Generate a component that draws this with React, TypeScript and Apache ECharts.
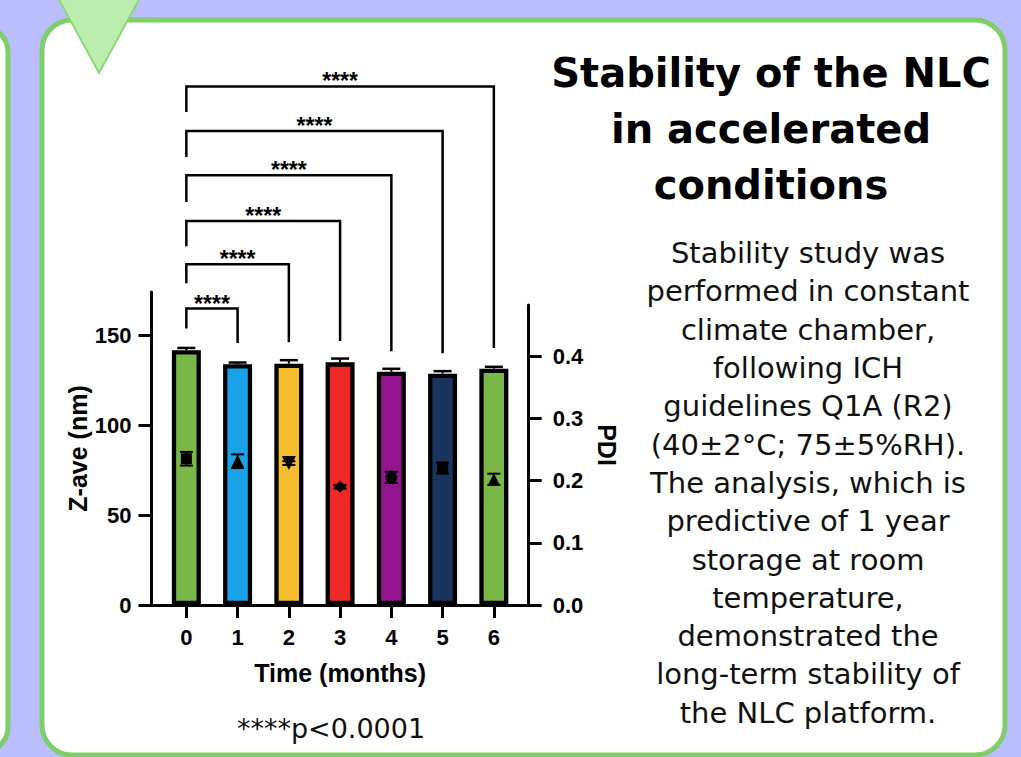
import React, { useEffect, useRef } from 'react';
import * as echarts from 'echarts';

// ---- data ----
const months = ['0', '1', '2', '3', '4', '5', '6'];
const monthValues = [0, 1, 2, 3, 4, 5, 6];
const zAve = [141.6, 133.8, 134.1, 134.9, 129.7, 128.6, 131.4];
const zAveErr = [1.3, 1.0, 2.0, 2.1, 1.6, 1.4, 1.0];
const pdi = [0.235, 0.231, 0.228, 0.19, 0.205, 0.22, 0.202];
const pdiErr = [0.011, 0.011, 0.003, 0.003, 0.009, 0.009, 0.009];
const barColors = ['#7AB648', '#1AA3E8', '#F6BD2E', '#EE2A27', '#951490', '#1B335F', '#7AB648'];
const pdiSymbols = ['rect', 'triangle', 'triangle', 'diamond', 'circle', 'rect', 'triangle'];
const pdiSymbolSize = [11, 13, 14, 12, 12, 11, 12];
const pdiRotate = [0, 0, 180, 0, 0, 0, 0];
const zTicks = [0, 50, 100, 150];
const pdiTicks = [0, 0.1, 0.2, 0.3, 0.4];
const bracketEnd = [1, 2, 3, 4, 5, 6];
const bracketTop = [164.8, 189.4, 213.5, 238.9, 263.5, 288.3];
const bracketLeftLeg = [153.7, 178.9, 199.4, 224, 249, 274];
const bracketRightLeg = [145.6, 146.1, 146.7, 141.1, 140, 142.8];
const sigLabel = '****';

const titleLines = ['Stability of the NLC', 'in accelerated', 'conditions'];
const bodyLines = [
  'Stability study was',
  'performed in constant',
  'climate chamber,',
  'following ICH',
  'guidelines Q1A (R2)',
  '(40±2°C; 75±5%RH).',
  'The analysis, which is',
  'predictive of 1 year',
  'storage at room',
  'temperature,',
  'demonstrated the',
  'long-term stability of',
  'the NLC platform.',
];
const footnote = '****p<0.0001';

const ARIAL = "'Liberation Sans', Arial, sans-serif";
const GOTHIC = "'DejaVu Sans', sans-serif";
const LAVENDER = '#BBBEFE';
const GREEN = '#80CE6A';

export default function App() {
  const ref = useRef<HTMLDivElement>(null);

  useEffect(() => {
    if (!ref.current) return;
    const chart = echarts.init(ref.current, null, { renderer: 'svg' });

    const gridLeft = 151.5;
    const gridRight = 1021 - 528.7;
    const gridBottom = 757 - 605;

    const option: any = {
      animation: false,
      backgroundColor: LAVENDER,
      grid: [
        { left: gridLeft, right: gridRight, top: 292, bottom: gridBottom },
        { left: gridLeft, right: gridRight, top: 305, bottom: gridBottom },
      ],
      xAxis: [
        {
          type: 'value',
          gridIndex: 0,
          min: -0.68,
          max: 6.68,
          splitLine: { show: false },
          axisLine: { onZero: false, lineStyle: { color: '#000', width: 3 } },
          axisTick: { customValues: monthValues, length: 13, lineStyle: { color: '#000', width: 3 } },
          axisLabel: {
            customValues: monthValues,
            formatter: (v: number) => months[Math.round(v)],
            color: '#000',
            fontFamily: ARIAL,
            fontWeight: 'bold',
            fontSize: 22,
            margin: 21,
          },
          name: 'Time (months)',
          nameLocation: 'middle',
          nameGap: 55,
          nameTextStyle: { color: '#000', fontFamily: ARIAL, fontWeight: 'bold', fontSize: 25 },
        },
        {
          type: 'value',
          gridIndex: 1,
          min: -0.68,
          max: 6.68,
          show: false,
        },
      ],
      yAxis: [
        {
          type: 'value',
          gridIndex: 0,
          position: 'left',
          min: 0,
          max: 174,
          splitLine: { show: false },
          axisLine: { show: true, onZero: false, lineStyle: { color: '#000', width: 3 } },
          axisTick: { show: true, customValues: zTicks, length: 13, lineStyle: { color: '#000', width: 3 } },
          axisLabel: {
            customValues: zTicks,
            color: '#000',
            fontFamily: ARIAL,
            fontWeight: 'bold',
            fontSize: 22,
            margin: 20,
          },
          name: 'Z-ave (nm)',
          nameLocation: 'middle',
          nameRotate: 90,
          nameGap: 57,
          nameTextStyle: { color: '#000', fontFamily: ARIAL, fontWeight: 'bold', fontSize: 25 },
        },
        {
          type: 'value',
          gridIndex: 1,
          position: 'right',
          min: 0,
          max: 0.482,
          splitLine: { show: false },
          axisLine: { show: true, onZero: false, lineStyle: { color: '#000', width: 3 } },
          axisTick: { show: true, customValues: pdiTicks, length: 13, lineStyle: { color: '#000', width: 3 } },
          axisLabel: {
            customValues: pdiTicks,
            formatter: (v: number) => v.toFixed(1),
            color: '#000',
            fontFamily: ARIAL,
            fontWeight: 'bold',
            fontSize: 22,
            margin: 24,
          },
          name: 'PDI',
          nameLocation: 'middle',
          nameRotate: -90,
          nameGap: 66,
          nameTextStyle: {
            color: '#000',
            fontFamily: ARIAL,
            fontWeight: 'bold',
            fontSize: 25,
            padding: [0, 20, 0, 0],
          },
        },
      ],
      graphic: [
        {
          type: 'rect',
          z: -10,
          shape: { x: -50, y: 27, width: 58, height: 725, r: 25 },
          style: { fill: '#fff', stroke: GREEN, lineWidth: 5 },
        },
        {
          type: 'rect',
          z: -10,
          shape: { x: 42, y: 20, width: 963, height: 735, r: 30 },
          style: { fill: '#fff', stroke: GREEN, lineWidth: 5 },
        },
        {
          type: 'polygon',
          z: -5,
          shape: { points: [[56, -6], [142, -6], [99, 73]] },
          style: { fill: '#BDEDAE', stroke: '#8AD978', lineWidth: 2 },
        },
        {
          type: 'text',
          x: 771,
          y: 44.7,
          style: {
            text: titleLines.join('\n'),
            fontFamily: GOTHIC,
            fontWeight: 'bold',
            fontSize: 40,
            lineHeight: 56,
            fill: '#000',
            align: 'center',
            verticalAlign: 'top',
          },
        },
        {
          type: 'text',
          x: 808,
          y: 234,
          style: {
            text: bodyLines.join('\n'),
            fontFamily: GOTHIC,
            fontSize: 29,
            lineHeight: 38.3,
            fill: '#111',
            align: 'center',
            verticalAlign: 'top',
          },
        },
        {
          type: 'text',
          x: 331,
          y: 728.5,
          style: {
            text: footnote,
            fontFamily: GOTHIC,
            fontSize: 27,
            fill: '#111',
            align: 'center',
            verticalAlign: 'middle',
          },
        },
      ],
      series: [
        {
          type: 'bar',
          xAxisIndex: 0,
          yAxisIndex: 0,
          barWidth: 29,
          z: 2,
          itemStyle: { borderColor: '#000', borderWidth: 4.3 },
          data: zAve.map((v, i) => ({ value: [monthValues[i], v], itemStyle: { color: barColors[i] } })),
        },
        {
          type: 'custom',
          xAxisIndex: 0,
          yAxisIndex: 0,
          z: 3,
          data: zAve.map((v, i) => [monthValues[i], v, zAveErr[i]]),
          renderItem: (_p: any, api: any) => {
            const x = api.value(0);
            const m = api.value(1);
            const e = api.value(2);
            const p0 = api.coord([x, m]);
            const p1 = api.coord([x, m + e]);
            return {
              type: 'group',
              children: [
                { type: 'line', shape: { x1: p0[0], y1: p0[1], x2: p1[0], y2: p1[1] }, style: { stroke: '#000', lineWidth: 2 } },
                { type: 'line', shape: { x1: p1[0] - 9, y1: p1[1], x2: p1[0] + 9, y2: p1[1] }, style: { stroke: '#000', lineWidth: 2.5 } },
              ],
            };
          },
        },
        {
          type: 'custom',
          xAxisIndex: 0,
          yAxisIndex: 0,
          z: 3,
          clip: false,
          data: bracketEnd.map((e, i) => [0, e, bracketTop[i], bracketLeftLeg[i], bracketRightLeg[i]]),
          renderItem: (_p: any, api: any) => {
            const x0 = api.value(0);
            const x1 = api.value(1);
            const top = api.value(2);
            const pLL = api.coord([x0, api.value(3)]);
            const pT0 = api.coord([x0, top]);
            const pT1 = api.coord([x1, top]);
            const pRL = api.coord([x1, api.value(4)]);
            return {
              type: 'group',
              children: [
                {
                  type: 'polyline',
                  shape: { points: [pLL, pT0, pT1, pRL] },
                  style: { stroke: '#000', lineWidth: 2.5, fill: 'none' },
                },
                {
                  type: 'text',
                  x: (pT0[0] + pT1[0]) / 2,
                  y: pT0[1] - 5,
                  style: {
                    text: sigLabel,
                    fontFamily: ARIAL,
                    fontWeight: 'bold',
                    fontSize: 23,
                    fill: '#000',
                    align: 'center',
                    verticalAlign: 'middle',
                  },
                },
              ],
            };
          },
        },
        {
          type: 'custom',
          xAxisIndex: 1,
          yAxisIndex: 1,
          z: 4,
          data: pdi.map((v, i) => [monthValues[i], v, pdiErr[i]]),
          renderItem: (_p: any, api: any) => {
            const x = api.value(0);
            const m = api.value(1);
            const e = api.value(2);
            const pLo = api.coord([x, m - e]);
            const pHi = api.coord([x, m + e]);
            return {
              type: 'group',
              children: [
                { type: 'line', shape: { x1: pLo[0], y1: pLo[1], x2: pHi[0], y2: pHi[1] }, style: { stroke: '#000', lineWidth: 2 } },
                { type: 'line', shape: { x1: pHi[0] - 6.5, y1: pHi[1], x2: pHi[0] + 6.5, y2: pHi[1] }, style: { stroke: '#000', lineWidth: 2 } },
                { type: 'line', shape: { x1: pLo[0] - 6.5, y1: pLo[1], x2: pLo[0] + 6.5, y2: pLo[1] }, style: { stroke: '#000', lineWidth: 2 } },
              ],
            };
          },
        },
        {
          type: 'scatter',
          xAxisIndex: 1,
          yAxisIndex: 1,
          z: 5,
          itemStyle: { color: '#000', opacity: 1 },
          data: pdi.map((v, i) => ({
            value: [monthValues[i], v],
            symbol: pdiSymbols[i],
            symbolSize: pdiSymbolSize[i],
            symbolRotate: pdiRotate[i],
          })),
        },
      ],
    };

    chart.setOption(option);
    return () => chart.dispose();
  }, []);

  return (
    <div
      ref={ref}
      style={{ position: 'fixed', left: 0, top: 0, width: 1021, height: 757 }}
    />
  );
}
